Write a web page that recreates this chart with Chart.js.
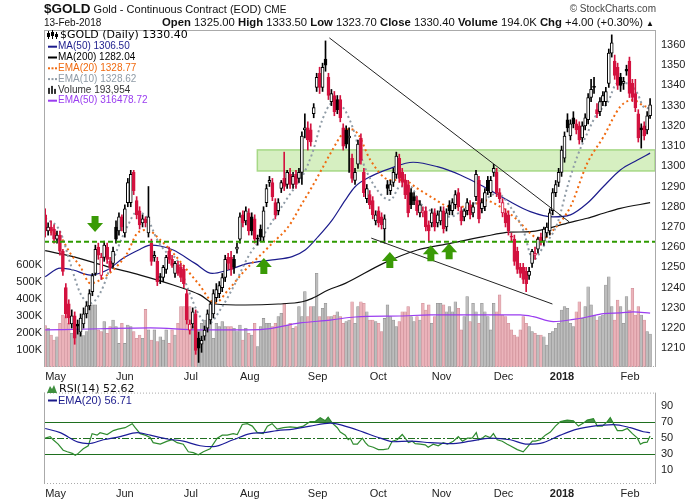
<!DOCTYPE html>
<html>
<head>
<meta charset="utf-8">
<script src="https://cdn.jsdelivr.net/npm/chart.js@4.4.1/dist/chart.umd.min.js"></script>
<style>
  body { margin: 0; background: #fff; font-family: "Liberation Sans", Arial, sans-serif; }
  #wrap { position: relative; width: 700px; height: 500px; overflow: hidden; }
  .txt { position: absolute; color: #111; white-space: nowrap; z-index: 2; }
  #box1 { position: absolute; left: 0; top: 0; width: 700px; height: 385px; }
  #box2 { position: absolute; left: 0; top: 381px; width: 700px; height: 119px; }
</style>
</head>
<body>
<div id="wrap">
  <div class="txt" style="left:44px; top:1px; font-size:11px;"><b style="font-size:13.5px;">$GOLD</b> Gold - Continuous Contract (EOD) <span style="font-size:10px">CME</span></div>
  <div class="txt" style="right:44px; top:3px; font-size:10px; color:#444;">&copy; StockCharts.com</div>
  <div class="txt" style="left:44px; top:17px; font-size:10px;">13-Feb-2018</div>
  <div class="txt" style="right:46px; top:16px; font-size:11.3px;"><b>Open</b> 1325.00 <b>High</b> 1333.50 <b>Low</b> 1323.70 <b>Close</b> 1330.40 <b>Volume</b> 194.0K <b>Chg</b> +4.00 (+0.30%) <span style="font-size:8px">&#9650;</span></div>
  <div id="box1"><canvas id="priceChart"></canvas></div>
  <div id="box2"><canvas id="rsiChart"></canvas></div>
</div>
<script>
// x axis: trading day index, month labels at the first day of each month
const monthLabels = ["May", "Jun", "Jul", "Aug", "Sep", "Oct", "Nov", "Dec", "2018", "Feb"];
const monthStarts = [0, 24, 47, 66, 89, 110, 131, 152, 171, 195];
const priceTicks = [1210, 1220, 1230, 1240, 1250, 1260, 1270, 1280, 1290, 1300, 1310, 1320, 1330, 1340, 1350, 1360];
const volumeTicks = [100, 200, 300, 400, 500, 600];
const rsiTicks = [10, 30, 50, 70, 90];

// daily candles, May 2017 - 13 Feb 2018
const opens = [
  1276,1268,1270,1269,1264,1266,1258,1240,1232,1222,
  1226,1222,1218,1222,1227,1231,1238,1247,1260,1246,
  1255,1260,1253,1252,1270,1268,1275,1267,1282,1282,
  1297,1283,1278,1272,1274,1267,1262,1255,1253,1245,
  1245,1249,1258,1254,1247,1251,1250,1249,1237,1219,
  1222,1227,1215,1212,1216,1220,1224,1227,1235,1237,
  1240,1245,1255,1255,1254,1259,1264,1276,1273,1277,
  1275,1274,1264,1269,1265,1282,1292,1292,1282,1278,
  1289,1294,1291,1296,1291,1296,1294,1297,1318,1319,
  1318,1326,1339,1346,1339,1353,1344,1332,1335,1333,
  1333,1319,1318,1314,1304,1293,1301,1314,1297,1284,
  1286,1283,1273,1278,1275,1269,1291,1288,1292,1296,
  1304,1297,1293,1291,1287,1285,1283,1277,1277,1278,
  1271,1272,1277,1272,1273,1278,1270,1281,1278,1281,
  1287,1278,1275,1278,1281,1277,1285,1293,1279,1280,
  1293,1287,1297,1297,1287,1277,1277,1276,1265,1264,
  1258,1250,1250,1248,1246,1252,1256,1259,1265,1263,
  1267,1268,1278,1287,1292,1297,1304,1323,1315,1324,
  1321,1320,1314,1320,1323,1334,1339,1328,1327,1332,
  1332,1341,1356,1352,1349,1344,1341,1348,1352,1341,
  1336,1326,1319,1320,1318,1325
];
const highs = [
  1279,1272,1273,1271,1268,1268,1259,1242,1234,1229,
  1228,1224,1227,1230,1233,1239,1247,1261,1262,1257,
  1263,1262,1255,1260,1273,1277,1276,1281,1294,1298,
  1298,1285,1280,1276,1275,1290,1264,1258,1255,1247,
  1251,1256,1260,1256,1253,1253,1252,1251,1239,1224,
  1230,1229,1218,1216,1221,1229,1233,1239,1242,1243,
  1247,1256,1257,1258,1256,1262,1277,1278,1280,1279,
  1277,1276,1266,1271,1280,1291,1295,1294,1284,1284,
  1293,1307,1298,1299,1297,1298,1299,1317,1326,1322,
  1321,1331,1346,1349,1351,1362,1346,1338,1337,1335,
  1335,1321,1320,1319,1306,1299,1313,1316,1299,1291,
  1288,1285,1278,1280,1277,1276,1293,1293,1299,1307,
  1306,1299,1296,1293,1289,1287,1285,1283,1280,1280,
  1273,1279,1279,1278,1280,1280,1279,1283,1284,1288,
  1289,1280,1279,1284,1283,1282,1298,1295,1284,1289,
  1295,1295,1301,1299,1289,1284,1279,1278,1267,1266,
  1260,1252,1252,1250,1250,1259,1260,1265,1267,1270,
  1272,1279,1289,1293,1299,1310,1317,1326,1323,1327,
  1323,1322,1322,1326,1336,1343,1344,1331,1334,1337,
  1339,1358,1365,1355,1351,1346,1344,1350,1354,1343,
  1343,1328,1321,1322,1327,1333.5
];
const lows = [
  1265,1266,1266,1262,1262,1256,1246,1225,1222,1220,
  1212,1217,1216,1220,1225,1229,1236,1246,1254,1244,
  1253,1252,1248,1250,1262,1266,1268,1265,1280,1280,
  1286,1274,1269,1270,1270,1265,1251,1253,1241,1242,
  1243,1247,1252,1250,1245,1246,1243,1240,1222,1217,
  1220,1207,1203,1208,1214,1218,1222,1225,1233,1235,
  1238,1243,1249,1246,1247,1257,1262,1270,1271,1266,
  1266,1262,1261,1263,1263,1280,1290,1283,1274,1276,
  1287,1288,1289,1289,1289,1289,1292,1291,1314,1308,
  1310,1324,1337,1336,1337,1347,1333,1330,1325,1326,
  1322,1308,1309,1297,1292,1291,1299,1301,1285,1282,
  1279,1274,1271,1270,1269,1262,1286,1286,1290,1294,
  1292,1290,1284,1275,1279,1281,1276,1275,1275,1268,
  1263,1270,1268,1270,1271,1267,1268,1276,1276,1279,
  1278,1271,1273,1276,1274,1275,1283,1272,1277,1278,
  1286,1285,1295,1285,1282,1275,1270,1266,1263,1251,
  1247,1245,1242,1238,1244,1250,1254,1257,1261,1261,
  1265,1266,1276,1285,1290,1295,1302,1317,1313,1319,
  1316,1311,1312,1318,1321,1332,1336,1324,1325,1330,
  1330,1339,1354,1343,1338,1337,1338,1345,1334,1332,
  1327,1312,1309,1313,1316,1323.7
];
const closes = [
  1268,1270,1268,1264,1266,1258,1248,1227,1225,1226,
  1215,1221,1225,1227,1231,1237,1246,1259,1256,1255,
  1261,1254,1250,1258,1264,1275,1270,1279,1292,1296,
  1288,1276,1271,1274,1272,1275,1253,1256,1243,1245,
  1250,1255,1254,1251,1252,1247,1245,1242,1224,1222,
  1228,1209,1210,1214,1219,1227,1232,1237,1239,1241,
  1245,1254,1252,1249,1250,1260,1275,1272,1278,1268,
  1268,1264,1264,1265,1278,1289,1293,1285,1276,1282,
  1292,1290,1297,1291,1295,1291,1297,1315,1319,1313,
  1312,1329,1344,1339,1349,1350,1335,1336,1327,1328,
  1324,1310,1311,1315,1294,1297,1311,1303,1287,1289,
  1281,1276,1276,1272,1271,1274,1289,1291,1297,1305,
  1294,1292,1286,1277,1281,1283,1278,1281,1278,1270,
  1268,1277,1270,1276,1278,1269,1277,1278,1282,1286,
  1280,1273,1278,1282,1276,1280,1296,1274,1282,1287,
  1288,1293,1299,1287,1284,1282,1272,1268,1265,1253,
  1249,1247,1244,1242,1248,1258,1257,1264,1263,1269,
  1270,1277,1287,1291,1297,1308,1315,1319,1321,1321,
  1318,1313,1320,1324,1334,1338,1339,1326,1332,1335,
  1337,1356,1361,1345,1340,1340,1342,1347,1336,1334,
  1329,1314,1318,1315,1325,1330.4
];
// volume in thousands
const volumes = [
  243,228,188,159,178,257,306,296,257,198,237,247,198,185,208,365,365,365,218,208,
  267,198,237,276,237,139,257,139,247,237,208,169,188,169,339,218,159,218,149,178,
  159,218,139,218,188,257,355,355,296,355,237,230,
  218,257,276,257,276,169,257,237,267,237,237,237,228,208,247,159,228,198,188,257,
  120,237,286,257,257,237,257,296,316,375,247,257,228,237,355,296,443,296,355,355,
  551,296,345,375,296,296,306,325,296,257,267,276,
  384,257,355,384,375,325,276,276,267,257,208,286,365,296,276,237,267,325,325,355,
  296,267,296,276,375,335,365,257,296,375,375,365,325,355,325,384,345,218,296,414,
  267,375,325,257,375,325,296,218,375,325,424,306,296,257,218,188,178,218,296,
  257,237,208,198,188,188,178,129,198,208,228,257,335,355,345,257,237,325,384,286,
  355,472,365,306,276,296,306,482,531,355,276,394,355,257,414,335,463,306,355,306,
  276,208,194
];

// overlays as [day index, value]
const ma50Points = [[0,1245.4],[5.1,1249.6],[9.5,1248.7],[15.3,1246.2],[21,1248.7],[26.4,1254.5],[32.2,1259],[35.6,1261],[39,1260.6],[43.4,1258.6],[50.8,1252],[56.6,1247],[62,1248.7],[68.8,1252],[77,1253.7],[83.7,1255.3],[88.1,1258.6],[92.5,1265.2],[97.3,1273.5],[101.7,1283.3],[105.1,1290],[110.2,1294.9],[117,1299],[124.7,1302],[132.9,1299.8],[140.7,1295.7],[148.5,1290],[156.6,1283.3],[164.4,1277.6],[172.2,1275],[178,1276],[183.7,1281.7],[189.2,1290],[194.9,1298.2],[200.7,1303.1],[205,1306.5]];
const ma200Points = [[0,1258.3],[9.5,1255.3],[21,1250.4],[32.2,1246.2],[43.4,1241.3],[52.5,1236.4],[57.6,1231.9],[67.8,1231.4],[79,1231.9],[87.1,1233],[90.5,1234.7],[95.9,1238.8],[101.7,1242.1],[114.6,1252],[126.1,1258.6],[137.3,1261.9],[148.5,1265.2],[157.6,1267.4],[164.4,1267.7],[178,1272.3],[183.7,1274.3],[189.2,1276.8],[194.9,1279.2],[205,1282]];
const ema20Points = [[1.7,1267.7],[5.1,1265.2],[8.5,1257],[11.9,1250.4],[15.3,1242.1],[17.6,1243],[23,1248.7],[27.8,1257],[31.2,1266.9],[34.6,1268.5],[39,1263.6],[43.4,1257],[48.1,1248.7],[51.9,1242],[57.6,1232.4],[62,1238.8],[67.8,1248.7],[73.6,1257],[77,1262],[82.4,1270.1],[87.1,1281.7],[90.5,1290],[93.9,1299],[97.3,1308],[100.7,1316],[103,1318.5],[106,1316],[110.2,1303.1],[117,1293.2],[121.4,1293.2],[126.1,1289.1],[131.5,1284.2],[137.3,1280],[144.1,1280],[148.5,1283.3],[154.2,1280],[160,1273.5],[164.4,1266.9],[167.8,1263.6],[172.2,1268.5],[178,1280],[183.7,1301.5],[189.2,1314.6],[194.9,1329.5],[199.3,1332.8],[202.7,1330],[205,1328.8]];
const ema10Points = [[0,1274.3],[5.1,1267.7],[8.5,1252],[11.9,1237.2],[15.3,1232.3],[18.6,1237.2],[23,1253.7],[27.8,1270.1],[31.2,1277.6],[34.6,1274.3],[38,1263.6],[41.4,1257],[44.7,1253.7],[48.1,1240.5],[52.5,1225.6],[55.3,1222.3],[60,1230.6],[64.4,1242.1],[68.8,1255.3],[73.6,1265.2],[78,1275.1],[82.4,1285],[87.1,1294.9],[90.5,1306.4],[93.9,1322.9],[97.3,1331.2],[100.7,1329.5],[104.1,1319.6],[107.8,1301.5],[112.5,1288.3],[117,1283.3],[120.3,1290],[123.7,1290],[127.1,1281.7],[132.9,1276.8],[137.3,1275.1],[143.1,1280],[148.5,1283.3],[153.2,1286.6],[157.6,1280],[162,1268.5],[165.4,1253.7],[168.8,1260.2],[173.6,1271.8],[177,1290],[180.3,1304.8],[183.7,1316.3],[187.1,1326.2],[190.5,1331.2],[193.9,1341.1],[197.3,1341.1],[200.7,1336.1],[202.7,1329.5],[205,1328.6]];
const volEmaPoints = [[0,218],[18.6,225],[35.6,230],[52.5,218],[72.9,220],[86.4,259],[96.6,276],[105.1,294],[120.3,300],[130.5,306],[154.2,306],[161,306],[165.4,296],[172.2,267],[179,280],[183.7,294],[189.2,314],[194.9,318],[199.3,324],[205,316.5]];
const rsiPoints = [[0,50],[1.7,51.8],[2.7,48],[4.4,42.5],[6.1,35],[7.5,33],[9.2,31],[10.2,28.6],[11.2,31],[12.9,36.8],[14.6,40.5],[15.9,55.6],[17.6,53.7],[18.6,56.8],[21,54.5],[23.1,59.4],[24.7,61.3],[27.1,63],[29.5,68],[30.5,63],[32.2,55.6],[33.9,53.7],[35.6,50.7],[36.6,44.4],[39,42.5],[41.4,46.2],[43.1,48],[44.7,44.4],[46.8,42.5],[48.5,33],[50.2,32],[51.9,29.3],[53.6,33],[55.9,36.8],[58.3,50],[60,53.7],[61.7,53.7],[63.7,55.6],[65.1,54.5],[66.8,67],[68.5,68],[70.2,65],[71.9,56.8],[73.9,55.6],[75.3,65],[76.9,68],[78.6,61.3],[80.7,63],[83.1,64],[85.4,63],[87.5,65],[89.8,70.6],[91.5,70.6],[93.2,75.5],[94.9,71.7],[95.9,76],[97.3,68.7],[99,63],[100,57.5],[101.7,53.7],[102.7,48],[103.4,50],[104.4,42.5],[105.8,42.5],[107.5,50],[108.5,44.4],[109.5,40.5],[111.2,38.7],[112.9,35.7],[114.6,35.7],[116.3,36.8],[117.6,46.2],[119.3,48],[121,54.5],[122,50],[123.1,44.4],[124.4,46.2],[125.4,43.2],[127.1,42.5],[128.8,41.7],[129.8,38.7],[131.5,42.5],[133.2,40.5],[134.9,44.4],[136.3,42.5],[138.3,46.2],[140,51.8],[141.4,46.2],[143.1,50],[144.7,50],[146.1,56.8],[146.8,48],[148.1,50],[149.2,53],[150.8,50.7],[151.9,55.6],[153.2,48],[154.9,46.2],[156.6,42.5],[157.6,40.5],[160,35.7],[162,33],[163.4,38.7],[165.1,46.2],[166.1,46.2],[167.8,48],[169.5,53.7],[171.2,57.5],[172.9,65],[174.6,70.6],[176.9,72.5],[179,71.7],[180.7,65],[182.4,68.7],[183.7,72.5],[185.8,74.3],[187.1,65],[188.8,65],[190.5,70.6],[191.5,75.5],[192.5,68.7],[193.9,59.4],[195.6,59.4],[197.3,62],[199,55.6],[200.7,50],[201.7,42.5],[202.7,44.4],[204,45],[205,52.6]];
const rsiEmaPoints = [[0,62],[5.1,56.8],[11.2,45],[14.6,43.2],[19.7,48],[25.4,51.8],[31.2,56.8],[35.6,53.7],[41.4,48.9],[46.8,46.2],[52.5,40.5],[56.9,39.4],[63.7,48],[69.5,55.6],[73.9,56.8],[78.6,59.4],[84.1,61.3],[89.8,65],[96.6,68.7],[103.4,63],[107.8,57.5],[113.6,50],[118,45.5],[123.7,46.2],[130.5,44.4],[137.3,43.2],[144.1,46.2],[150.8,50],[157.6,48],[163.4,42.5],[168.8,44.4],[174.6,53.7],[180.3,61.3],[185.8,65],[192.5,66.9],[198.3,63],[202.7,58],[205,56.7]];

// analyst drawings, in [day index, price]
const trendLines = [[96.3, 1363.5, 177.6, 1272.5], [110.5, 1264.5, 171.9, 1231.9]];
const supportLevel = 1262.7;
const resistZone = [71.9, 1297.7, 1308.1];
const downArrows = [[16.9, 1267.5]];
const upArrows = [[74.1, 1254.7], [116.8, 1257.6], [130.7, 1261], [136.9, 1262]];

const legendRows = [
  ["MA(50) 1306.50", "#1c1c8c", "line"],
  ["MA(200) 1282.04", "#000000", "line"],
  ["EMA(20) 1328.77", "#f06a10", "dots"],
  ["EMA(10) 1328.62", "#8f9ba6", "dots"],
  ["Volume 193,954", "#333333", "vol"],
  ["EMA(50) 316478.72", "#9a3df0", "line"]
];

const RED = "#d3123f";
const up = closes.map((c, i) => c >= (i ? closes[i - 1] : opens[i]));
const candleColor = up.map(u => u ? "#000000" : RED);
const bodyFill = closes.map((c, i) => c > opens[i] ? "#ffffff" : candleColor[i]);
const volFill = up.map(u => u ? "#bdbdbd" : "#ebb3ba");
const volLine = up.map(u => u ? "#8f8f8f" : "#cc8c95");
const toXY = pts => pts.map(p => ({ x: p[0], y: p[1] }));

Chart.defaults.font.family = '"Liberation Sans", Arial, sans-serif';
Chart.defaults.color = "#222";

function makeX(axisHeight) {
  return {
    type: "linear", min: -0.4, max: 207, offset: false,
    grid: { display: false, drawTicks: false }, border: { display: false },
    afterBuildTicks: s => { s.ticks = monthStarts.map(v => ({ value: v })); },
    afterFit: s => { s.height = axisHeight; },
    ticks: {
      autoSkip: false, maxRotation: 0, align: "start", padding: 3, color: "#222",
      font: c => ({ size: 11, weight: (c.tick && c.tick.value === monthStarts[8]) ? "bold" : "normal" }),
      callback: v => monthLabels[monthStarts.indexOf(v)]
    }
  };
}

function drawArrow(ctx, x, tipY, dir) {
  // dir = 1 points down, -1 points up
  const head = 9, half = 8, shaft = 3.5, len = 16;
  ctx.beginPath();
  ctx.moveTo(x, tipY);
  ctx.lineTo(x - half, tipY - dir * head);
  ctx.lineTo(x - shaft, tipY - dir * head);
  ctx.lineTo(x - shaft, tipY - dir * len);
  ctx.lineTo(x + shaft, tipY - dir * len);
  ctx.lineTo(x + shaft, tipY - dir * head);
  ctx.lineTo(x + half, tipY - dir * head);
  ctx.closePath();
  ctx.fill();
}

function drawFrame(ctx, a, solidTop) {
  ctx.save();
  ctx.strokeStyle = "#aaaaaa";
  ctx.lineWidth = 1;
  ctx.beginPath();
  ctx.moveTo(a.left + 0.5, a.top); ctx.lineTo(a.left + 0.5, a.bottom);
  ctx.moveTo(a.right - 0.5, a.top); ctx.lineTo(a.right - 0.5, a.bottom);
  if (solidTop) { ctx.moveTo(a.left, a.top + 0.5); ctx.lineTo(a.right, a.top + 0.5); }
  ctx.stroke();
  ctx.setLineDash([1, 2]);
  ctx.beginPath();
  if (!solidTop) { ctx.moveTo(a.left, a.top + 0.5); ctx.lineTo(a.right, a.top + 0.5); }
  ctx.moveTo(a.left, a.bottom - 0.5); ctx.lineTo(a.right, a.bottom - 0.5);
  ctx.stroke();
  ctx.restore();
}

const zonePlugin = {
  id: "zone",
  beforeDatasetsDraw(chart) {
    const { ctx, chartArea: a, scales: { x, y } } = chart;
    const left = x.getPixelForValue(resistZone[0]);
    const top = y.getPixelForValue(resistZone[2]);
    const bottom = y.getPixelForValue(resistZone[1]);
    ctx.save();
    ctx.fillStyle = "#d6efc1";
    ctx.fillRect(left, top, a.right - left, bottom - top);
    ctx.strokeStyle = "#a6d886";
    ctx.lineWidth = 1.5;
    ctx.strokeRect(left, top, a.right - left - 1, bottom - top);
    ctx.restore();
  }
};

const drawingsPlugin = {
  id: "drawings",
  afterDatasetsDraw(chart) {
    const { ctx, chartArea: a, scales: { x, y } } = chart;
    ctx.save();
    // support level
    ctx.strokeStyle = "#2f9a00";
    ctx.lineWidth = 2;
    ctx.setLineDash([5, 3]);
    const sy = y.getPixelForValue(supportLevel);
    ctx.beginPath(); ctx.moveTo(a.left, sy); ctx.lineTo(a.right, sy); ctx.stroke();
    ctx.setLineDash([]);
    // trend lines
    ctx.strokeStyle = "#222";
    ctx.lineWidth = 1;
    trendLines.forEach(t => {
      ctx.beginPath();
      ctx.moveTo(x.getPixelForValue(t[0]), y.getPixelForValue(t[1]));
      ctx.lineTo(x.getPixelForValue(t[2]), y.getPixelForValue(t[3]));
      ctx.stroke();
    });
    // arrows
    ctx.fillStyle = "#3a9a06";
    downArrows.forEach(p => drawArrow(ctx, x.getPixelForValue(p[0]), y.getPixelForValue(p[1]), 1));
    upArrows.forEach(p => drawArrow(ctx, x.getPixelForValue(p[0]), y.getPixelForValue(p[1]), -1));
    ctx.restore();
  }
};

const priceLegend = {
  id: "priceLegend",
  afterDraw(chart) {
    const { ctx, chartArea: a } = chart;
    drawFrame(ctx, a, true);
    const x0 = a.left + 3;
    ctx.save();
    ctx.textBaseline = "middle";
    // little candle icon
    ctx.fillStyle = "#000";
    ctx.fillRect(x0 + 1, 31, 1, 8); ctx.fillRect(x0, 33, 3, 4);
    ctx.fillRect(x0 + 5, 30, 1, 9); ctx.fillRect(x0 + 4, 32, 3, 4);
    ctx.fillRect(x0 + 9, 32, 1, 7); ctx.fillRect(x0 + 8, 34, 3, 3);
    ctx.font = '11px "DejaVu Sans", sans-serif';
    ctx.fillText("$GOLD (Daily) 1330.40", x0 + 13, 35.5);
    ctx.font = '10px "Liberation Sans", Arial, sans-serif';
    legendRows.forEach((row, k) => {
      const yy = 46.7 + k * 10.8;
      ctx.fillStyle = row[1];
      if (row[2] === "line") ctx.fillRect(x0 + 1, yy - 1, 9, 2);
      if (row[2] === "dots") { ctx.fillRect(x0 + 1, yy - 1, 2, 2); ctx.fillRect(x0 + 4.5, yy - 1, 2, 2); ctx.fillRect(x0 + 8, yy - 1, 2, 2); }
      if (row[2] === "vol") { ctx.fillRect(x0 + 1, yy - 2, 2, 6); ctx.fillRect(x0 + 4, yy - 4, 2, 8); ctx.fillRect(x0 + 7, yy - 1, 2, 5); }
      ctx.fillText(row[0], x0 + 11, yy);
    });
    ctx.restore();
  }
};

new Chart(document.getElementById("priceChart"), {
  type: "bar",
  data: {
    datasets: [
      { type: "bar", data: closes.map((c, i) => ({ x: i, y: [opens[i], c] })), backgroundColor: bodyFill, borderColor: candleColor,
        borderWidth: 1, borderSkipped: false, barThickness: 3, minBarLength: 1, grouped: false, yAxisID: "y", order: 0 },
      { type: "bar", data: highs.map((h, i) => ({ x: i, y: [lows[i], h] })), backgroundColor: candleColor,
        barThickness: 1, grouped: false, yAxisID: "y", order: 1 },
      { type: "line", data: toXY(ema10Points), borderColor: "#8f9ba6", borderWidth: 2, borderDash: [2, 3], pointRadius: 0,
        cubicInterpolationMode: "monotone", yAxisID: "y", order: 2 },
      { type: "line", data: toXY(ema20Points), borderColor: "#f06a10", borderWidth: 2, borderDash: [2, 3], pointRadius: 0,
        cubicInterpolationMode: "monotone", yAxisID: "y", order: 3 },
      { type: "line", data: toXY(ma50Points), borderColor: "#1c1c8c", borderWidth: 1.2, pointRadius: 0,
        cubicInterpolationMode: "monotone", yAxisID: "y", order: 4 },
      { type: "line", data: toXY(ma200Points), borderColor: "#111", borderWidth: 1.2, pointRadius: 0,
        cubicInterpolationMode: "monotone", yAxisID: "y", order: 5 },
      { type: "line", data: toXY(volEmaPoints), borderColor: "#9a3df0", borderWidth: 1.2, pointRadius: 0,
        cubicInterpolationMode: "monotone", yAxisID: "yv", order: 6 },
      { type: "bar", data: volumes.map((v, i) => ({ x: i, y: v })), backgroundColor: volFill, borderColor: volLine,
        borderWidth: 0.6, barThickness: 2.8, grouped: false, yAxisID: "yv", order: 7 }
    ]
  },
  options: {
    responsive: true, maintainAspectRatio: false, animation: false, events: [],
    layout: { padding: { top: 30, left: 0, right: 0, bottom: 0 } },
    plugins: { legend: { display: false }, tooltip: { enabled: false } },
    scales: {
      x: makeX(18),
      y: {
        type: "linear", position: "right", min: 1200.75, max: 1367.4,
        grid: { display: false, drawTicks: false }, border: { display: false },
        afterBuildTicks: s => { s.ticks = priceTicks.map(v => ({ value: v })); },
        afterFit: s => { s.width = 44; },
        ticks: { padding: 5, color: "#222", font: { size: 11 }, callback: v => String(v) }
      },
      yv: {
        type: "linear", position: "left", min: 0, max: 1982,
        grid: { display: false, drawTicks: false }, border: { display: false },
        afterBuildTicks: s => { s.ticks = volumeTicks.map(v => ({ value: v })); },
        afterFit: s => { s.width = 44; },
        ticks: { padding: 2, color: "#222", font: { size: 11 }, callback: v => v + "K" }
      }
    }
  },
  plugins: [zonePlugin, drawingsPlugin, priceLegend]
});

const rsiGuides = {
  id: "rsiGuides",
  beforeDatasetsDraw(chart) {
    const { ctx, chartArea: a, scales: { y } } = chart;
    ctx.save();
    ctx.strokeStyle = "#1f6f1f";
    ctx.lineWidth = 1.2;
    [70, 30].forEach(v => {
      const py = Math.round(y.getPixelForValue(v)) + 0.5;
      ctx.beginPath(); ctx.moveTo(a.left, py); ctx.lineTo(a.right, py); ctx.stroke();
    });
    ctx.setLineDash([7, 2, 2, 2]);
    const my = Math.round(y.getPixelForValue(50)) + 0.5;
    ctx.beginPath(); ctx.moveTo(a.left, my); ctx.lineTo(a.right, my); ctx.stroke();
    ctx.restore();
  },
  afterDraw(chart) {
    const { ctx, chartArea: a } = chart;
    drawFrame(ctx, a, false);
    const x0 = a.left + 3;
    ctx.save();
    ctx.textBaseline = "middle";
    ctx.fillStyle = "#3f8f3f";
    ctx.beginPath();
    ctx.moveTo(x0, 12); ctx.lineTo(x0 + 3, 5); ctx.lineTo(x0 + 5, 8); ctx.lineTo(x0 + 7, 4); ctx.lineTo(x0 + 10, 12);
    ctx.closePath(); ctx.fill();
    ctx.fillStyle = "#111";
    ctx.font = '11px "DejaVu Sans", sans-serif';
    ctx.fillText("RSI(14) 52.62", x0 + 12, 8.5);
    ctx.fillStyle = "#1c1c8c";
    ctx.fillRect(x0 + 1, 18.5, 9, 2);
    ctx.font = '11px "Liberation Sans", Arial, sans-serif';
    ctx.fillText("EMA(20) 56.71", x0 + 11, 19.5);
    ctx.restore();
  }
};

new Chart(document.getElementById("rsiChart"), {
  type: "line",
  data: {
    datasets: [
      { data: toXY(rsiPoints), borderColor: "#2e8b2e", borderWidth: 1.2, pointRadius: 0, tension: 0,
        fill: { target: { value: 70 }, above: "#4a924a", below: "rgba(0,0,0,0)" }, order: 1 },
      { data: toXY(rsiEmaPoints), borderColor: "#1c1c99", borderWidth: 1.2, pointRadius: 0,
        cubicInterpolationMode: "monotone", fill: false, order: 0 }
    ]
  },
  options: {
    responsive: true, maintainAspectRatio: false, animation: false, events: [],
    layout: { padding: { top: 2, left: 44, right: 0, bottom: 0 } },
    plugins: { legend: { display: false }, tooltip: { enabled: false } },
    scales: {
      x: makeX(16),
      y: {
        type: "linear", position: "right", min: -7.1, max: 106.7,
        grid: { display: false, drawTicks: false }, border: { display: false },
        afterBuildTicks: s => { s.ticks = rsiTicks.map(v => ({ value: v })); },
        afterFit: s => { s.width = 44; },
        ticks: { padding: 5, color: "#222", font: { size: 11 } }
      }
    }
  },
  plugins: [rsiGuides]
});
</script>
</body>
</html>
